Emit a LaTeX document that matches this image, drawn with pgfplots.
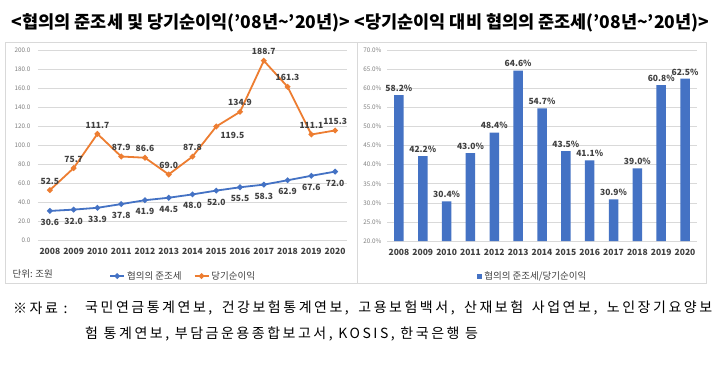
\documentclass[border=0pt]{standalone}
\usepackage{pgfplots}
\pgfplotsset{compat=1.18}
\usepackage{pgfplotstable}
\usepackage{fontspec}
\setmainfont{Noto Sans CJK KR}
\newfontfamily\titlefont{Noto Sans CJK KR Black}
\newfontfamily\notefont{Noto Sans CJK KR}[LetterSpace=18]
\definecolor{xblue}{HTML}{4472C4}
\definecolor{xorange}{HTML}{ED7D31}
\definecolor{gridc}{HTML}{D9D9D9}
\definecolor{tickc}{HTML}{808080}
\definecolor{labc}{HTML}{404040}
\definecolor{bordc}{HTML}{D9D9D9}

\pgfplotstableread{
year tax ni
2008 30.6 52.5
2009 32.0 75.7
2010 33.9 111.7
2011 37.8 87.9
2012 41.9 86.6
2013 44.5 69.0
2014 48.0 87.8
2015 52.0 119.5
2016 55.5 134.9
2017 58.3 188.7
2018 62.9 161.3
2019 67.6 111.1
2020 72.0 115.3
}\leftdata

\pgfplotstableread{
year ratio
2008 58.2
2009 42.2
2010 30.4
2011 43.0
2012 48.4
2013 64.6
2014 54.7
2015 43.5
2016 41.1
2017 30.9
2018 39.0
2019 60.8
2020 62.5
}\rightdata

\pgfplotsset{
  common/.style={
    scale only axis,
    xmin=2007.5, xmax=2020.5,
    xtick={2008,2009,...,2020},
    /pgf/number format/assume math mode=true,
    axis line style={draw=none},
    major tick length=0pt,
    ymajorgrids,
    grid style={gridc, line width=0.6pt},
    xticklabel={\pgfmathprintnumber[1000 sep={}]{\tick}},
    xticklabel style={font=\bfseries\fontsize{8.5}{10}\selectfont, text=labc, yshift=-5pt},
    yticklabel style={font=\fontsize{6.3}{7}\selectfont, text=tickc},
    clip=true,
  }
}

\begin{document}
\begin{tikzpicture}[x=1pt,y=1pt]
\fill[white] (0,0) rectangle (720,376);
\useasboundingbox (0,0) rectangle (720,376);
% panel borders
\draw[bordc, line width=0.8pt] (5,93) rectangle (357,334);
\draw[bordc, line width=0.8pt] (357,93) rectangle (706,334);
% titles
\node[font=\titlefont\fontsize{17.5}{20}\selectfont, text=black] at (181,353) {<협의의 준조세 및 당기순이익(’08년\char`\~’20년)>};
\node[font=\titlefont\fontsize{17.5}{20}\selectfont, text=black] at (532,353) {<당기순이익 대비 협의의 준조세(’08년\char`\~’20년)>};

\begin{axis}[common,
  at={(38pt,136pt)}, anchor=south west,
  width=309pt, height=190pt,
  ymin=0, ymax=200, ytick={0,20,...,200},
  yticklabel={\pgfmathprintnumber[fixed,fixed zerofill,precision=1]{\tick}},
  yticklabel style={anchor=east, xshift=-4pt},
  legend style={at={(0.47,-0.19)}, anchor=center, draw=none, fill=none,
    legend columns=2, font=\fontsize{9.5}{11}\selectfont, text=labc,
    /tikz/every even column/.append style={column sep=10pt}},
  legend image code/.code={\draw[#1, mark repeat=2, mark phase=2] plot coordinates {(0pt,0pt) (7pt,0pt) (14pt,0pt)};},
]
\addplot[xblue, line width=1.8pt, mark=*, mark size=1.8pt,
  nodes near coords, point meta=explicit,
  every node near coord/.append style={anchor=north, yshift=-4pt, font=\bfseries\fontsize{8.5}{10}\selectfont, text=labc},
  nodes near coords={\pgfmathprintnumber[fixed,fixed zerofill,precision=1]{\pgfplotspointmeta}}]
  table[x=year, y=tax, meta=tax] {\leftdata};
\addlegendentry{협의의 준조세}
\addplot[xorange, line width=1.8pt, mark=*, mark size=1.8pt,
  nodes near coords, point meta=explicit,
  every node near coord/.append style={yshift=1.5pt, font=\bfseries\fontsize{8.5}{10}\selectfont, text=labc},
  coordinate style/.condition={\coordindex==7}{anchor=north west, yshift=-3pt},
  nodes near coords={\pgfmathprintnumber[fixed,fixed zerofill,precision=1]{\pgfplotspointmeta}}]
  table[x=year, y=ni, meta=ni] {\leftdata};
\addlegendentry{당기순이익}
\end{axis}
\node[anchor=west, font=\fontsize{9.5}{11}\selectfont, text=labc] at (9,102) {단위: 조원};

\begin{axis}[common,
  at={(387pt,135pt)}, anchor=south west,
  width=310pt, height=191pt,
  ymin=20, ymax=70, ytick={20,25,...,70},
  yticklabel={\pgfmathprintnumber[fixed,fixed zerofill,precision=1]{\tick}\%},
  yticklabel style={anchor=east, xshift=-2pt},
  ybar, bar width=9.5pt,
  legend style={at={(0.47,-0.185)}, anchor=center, draw=none, fill=none,
    font=\fontsize{9.5}{11}\selectfont, text=labc},
  legend image code/.code={\fill[#1] (0pt,-2.6pt) rectangle (5.2pt,2.6pt);},
]
\addplot[draw=none, fill=xblue,
  nodes near coords, point meta=explicit,
  every node near coord/.append style={anchor=south, font=\bfseries\fontsize{8.5}{10}\selectfont, text=labc},
  nodes near coords={\pgfmathprintnumber[fixed,fixed zerofill,precision=1]{\pgfplotspointmeta}\%}]
  table[x=year, y=ratio, meta=ratio] {\rightdata};
\addlegendentry{협의의 준조세/당기순이익}
\end{axis}

% source note
\node[anchor=west, inner sep=0pt, font=\notefont\fontsize{14}{16}\selectfont, text=black] at (13,68) {※자료 :};
\node[anchor=west, inner sep=0pt, font=\notefont\fontsize{14}{16}\selectfont, text=black] at (85,68) {\makebox[627pt][s]{국민연금통계연보, 건강보험통계연보, 고용보험백서, 산재보험 사업연보, 노인장기요양보}};
\node[anchor=west, inner sep=0pt, font=\notefont\fontsize{14}{16}\selectfont, text=black] at (85,42) {험 통계연보, 부담금운용종합보고서, KOSIS, 한국은행 등};
\end{tikzpicture}
\end{document}
